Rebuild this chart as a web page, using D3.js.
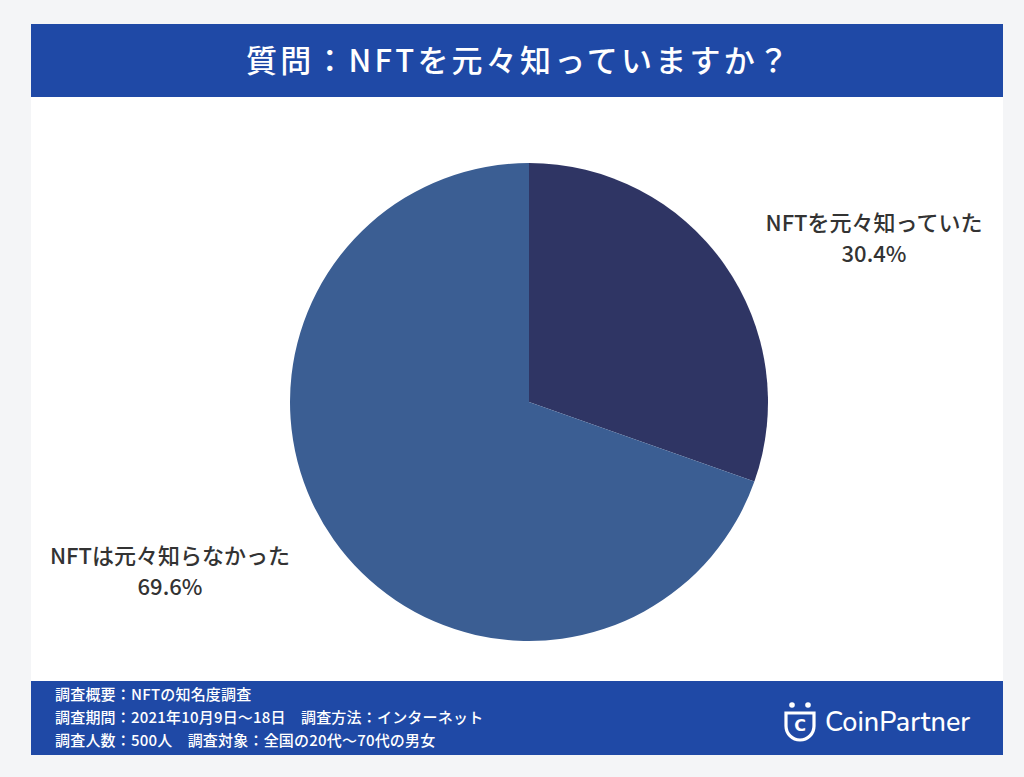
<!DOCTYPE html>
<html><head><meta charset="utf-8">
<script src="https://cdn.jsdelivr.net/npm/d3@7"></script>
<style>html,body{margin:0;padding:0;background:#f4f5f7;}</style>
</head><body>
<svg id="c" width="1024" height="777"></svg>
<script>
const categories = ["NFTを元々知っていた", "NFTは元々知らなかった"];
const values = [30.4, 69.6];
const valueLabels = ["30.4%", "69.6%"];
const colors = ["#2f3564", "#3b5e93"];
const title = "質問：NFTを元々知っていますか？";
const footerLines = ["調査概要：NFTの知名度調査", "調査期間：2021年10月9日〜18日　調査方法：インターネット", "調査人数：500人　調査対象：全国の20代〜70代の男女"];

const svg = d3.select("#c");
const font = "'Noto Sans CJK JP', 'Noto Sans', sans-serif";
svg.append("rect").attr("x",0).attr("y",0).attr("width",1024).attr("height",777).attr("fill","#f4f5f7");
svg.append("rect").attr("x",31).attr("y",24).attr("width",972).attr("height",731).attr("fill","#ffffff");
svg.append("rect").attr("x",31).attr("y",24).attr("width",972).attr("height",73).attr("fill","#1f49a6");
svg.append("text").attr("x",519).attr("y",72).attr("text-anchor","middle").attr("fill","#fff")
  .attr("font-family",font).attr("font-size",31).attr("font-weight",500).attr("letter-spacing",3.2).text(title);

const cx = 529, cy = 402, r = 239;
const pie = d3.pie().sort(null).value(d=>d);
const arc = d3.arc().innerRadius(0).outerRadius(r);
const g = svg.append("g").attr("transform",`translate(${cx},${cy})`);
g.selectAll("path").data(pie(values)).join("path").attr("d",arc).attr("fill",(d,i)=>colors[i]);

const labelPos = [[874, 231], [170, 564]];
categories.forEach((c,i)=>{
  const t = svg.append("text").attr("text-anchor","middle").attr("fill","#333")
    .attr("font-family",font).attr("font-size",22).attr("font-weight",500);
  t.append("tspan").attr("x",labelPos[i][0]).attr("y",labelPos[i][1]).text(c);
  t.append("tspan").attr("x",labelPos[i][0]).attr("y",labelPos[i][1]+31).text(valueLabels[i]);
});

svg.append("rect").attr("x",31).attr("y",681).attr("width",972).attr("height",74).attr("fill","#1f49a6");
footerLines.forEach((l,i)=>{
  svg.append("text").attr("x",55).attr("y",700+i*23).attr("fill","#fff").attr("font-family",font)
    .attr("font-size",15).attr("font-weight",500).attr("letter-spacing",0.2).text(l);
});
// logo
const lg = svg.append("g").attr("transform","translate(792,722)");
lg.append("circle").attr("cx",0).attr("cy",-17).attr("r",2.8).attr("fill","#fff");
lg.append("circle").attr("cx",16).attr("cy",-17).attr("r",2.8).attr("fill","#fff");
lg.append("path").attr("d","M-6,-9 L-6,4 A14,14 0 0 0 22,4 L22,-9 Z").attr("fill","none").attr("stroke","#fff").attr("stroke-width",3.2);
lg.append("text").attr("x",8).attr("y",9).attr("text-anchor","middle").attr("fill","#fff").attr("font-family","'DejaVu Sans', sans-serif").attr("font-size",16).attr("font-weight",700).text("C");
svg.append("text").attr("x",825).attr("y",731).attr("fill","#fff").attr("font-family","'Nunito','Lato','Noto Sans',sans-serif")
  .attr("font-size",27).attr("font-weight",500).text("CoinPartner");
</script>
</body></html>
